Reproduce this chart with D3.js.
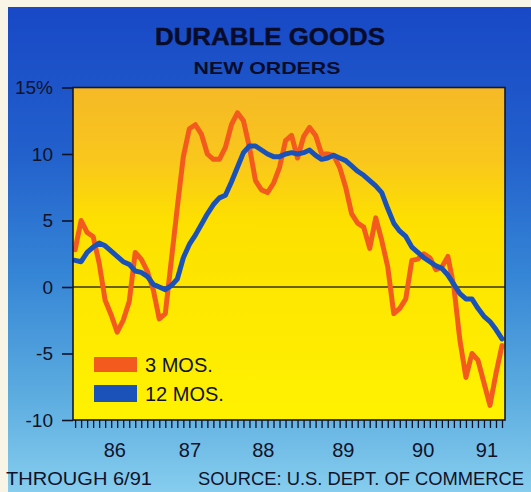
<!DOCTYPE html>
<html>
<head>
<meta charset="utf-8">
<script src="https://cdn.jsdelivr.net/npm/d3@7"></script>
<style>
  html, body { margin: 0; padding: 0; background: #f8f4e6; }
  svg { display: block; font-family: "Liberation Sans", Arial, Helvetica, sans-serif; }
</style>
</head>
<body>
<svg id="chart" width="531" height="492"></svg>
<script>
// Durable goods new orders, percent change, monthly from July 1985 through June 1991
const months = d3.timeMonth.range(new Date(1985, 6, 1), new Date(1991, 6, 1));

// 3-month change
const threeMonth = [
  2.8, 5.0, 4.1, 3.8, 1.8, -1.0, -2.1, -3.4, -2.5, -1.1,
  2.6, 2.1, 1.2, -0.2, -2.4, -2.0, 2.0, 6.0, 9.8, 11.9,
  12.2, 11.5, 10.0, 9.6, 9.6, 10.5, 12.2, 13.1, 12.5, 10.5,
  8.0, 7.3, 7.1, 7.8, 9.0, 11.0, 11.4, 9.7, 11.3, 12.0,
  11.4, 10.0, 10.0, 9.9, 9.0, 7.5, 5.5, 4.8, 4.5, 2.9,
  5.2, 3.5, 1.5, -2.0, -1.6, -0.9, 2.0, 2.1, 2.5, 2.2,
  1.3, 1.5, 2.3, 0.0, -4.0, -6.8, -5.0, -5.5, -7.2, -8.9,
  -6.5, -4.4
];

// 12-month change
const twelveMonth = [
  2.0, 1.9, 2.6, 3.0, 3.3, 3.1, 2.7, 2.3, 1.9, 1.7,
  1.2, 1.1, 0.8, 0.2, 0.0, -0.2, 0.1, 0.6, 2.2, 3.2,
  3.9, 4.7, 5.5, 6.2, 6.7, 6.9, 7.9, 9.0, 10.1, 10.6,
  10.6, 10.3, 10.0, 9.8, 9.8, 10.0, 10.1, 10.0, 10.1, 10.3,
  9.9, 9.6, 9.7, 9.9, 9.7, 9.5, 9.1, 8.7, 8.4, 8.0,
  7.6, 7.1, 5.9, 4.8, 4.2, 3.8, 3.0, 2.6, 2.2, 1.9,
  1.6, 1.4, 0.9, 0.2, -0.5, -0.9, -0.9, -1.6, -2.2, -2.6,
  -3.2, -3.9
];

const seriesNames = ["3 MOS.", "12 MOS."];
const seriesColors = ["#f35a1d", "#1a52ba"];

const yTicks = [15, 10, 5, 0, -5, -10];
const yearLabels = ["86", "87", "88", "89", "90", "91"];
// month index (from July 1985) under which each year label sits
const yearLabelAt = [6.6, 19.1, 31.3, 44.6, 57.9, 68.5];

const titleText = "DURABLE GOODS";
const subtitleText = "NEW ORDERS";
const footLeft = "THROUGH 6/91";
const footRight = "SOURCE: U.S. DEPT. OF COMMERCE";

// ---- layout ----
const W = 531, H = 492;
const plot = { left: 73, right: 505, top: 87.5, bottom: 420 };
const ink = "#10122a";
const titleInk = "#080c2a";

const svg = d3.select("#chart");
const defs = svg.append("defs");

const bg = defs.append("linearGradient").attr("id", "bgGrad")
  .attr("x1", 0).attr("y1", 0).attr("x2", 0).attr("y2", 1);
[["0%", "#1848c6"], ["30%", "#2260cc"], ["55%", "#3585d6"], ["80%", "#5cace0"], ["100%", "#86cdee"]]
  .forEach(([o, c]) => bg.append("stop").attr("offset", o).attr("stop-color", c));

const yg = defs.append("linearGradient").attr("id", "plotGrad")
  .attr("x1", 0).attr("y1", 0).attr("x2", 0).attr("y2", 1);
[["0%", "#f5b926"], ["22%", "#f9c71c"], ["40%", "#fde000"], ["100%", "#fff200"]]
  .forEach(([o, c]) => yg.append("stop").attr("offset", o).attr("stop-color", c));

defs.append("clipPath").attr("id", "plotClip").append("rect")
  .attr("x", plot.left).attr("y", plot.top)
  .attr("width", plot.right - plot.left).attr("height", plot.bottom - plot.top);

// panel background
svg.append("rect").attr("x", 0).attr("y", 0).attr("width", W).attr("height", H).attr("fill", "#f8f4e6");
svg.append("rect").attr("x", 8).attr("y", 7).attr("width", W - 8).attr("height", H - 7).attr("fill", "url(#bgGrad)");

// scales
const x = d3.scaleLinear().domain([-0.35, months.length - 0.5]).range([plot.left, plot.right]);
const y = d3.scaleLinear().domain([-10, 15]).range([plot.bottom, plot.top]);

// plot area
svg.append("rect")
  .attr("x", plot.left).attr("y", plot.top)
  .attr("width", plot.right - plot.left).attr("height", plot.bottom - plot.top)
  .attr("fill", "url(#plotGrad)");

// zero line
svg.append("line")
  .attr("x1", plot.left).attr("x2", plot.right)
  .attr("y1", y(0)).attr("y2", y(0))
  .attr("stroke", "#3a3418").attr("stroke-width", 1.4);

// series lines
const line = d3.line().x((d, i) => x(i)).y(d => y(d));
const lines = svg.append("g").attr("clip-path", "url(#plotClip)");
[threeMonth, twelveMonth].forEach((vals, k) => {
  lines.append("path")
    .datum(vals)
    .attr("d", line)
    .attr("fill", "none")
    .attr("stroke", seriesColors[k])
    .attr("stroke-width", 5)
    .attr("stroke-linejoin", "round")
    .attr("stroke-linecap", "round");
});

// plot frame
svg.append("rect")
  .attr("x", plot.left).attr("y", plot.top)
  .attr("width", plot.right - plot.left).attr("height", plot.bottom - plot.top)
  .attr("fill", "none").attr("stroke", "#141a2a").attr("stroke-width", 1.6);

// y axis
const yAxis = svg.append("g")
  .attr("transform", `translate(${plot.left},0)`)
  .call(d3.axisLeft(y).tickValues(yTicks).tickSize(11).tickPadding(9)
    .tickFormat(d => d === 15 ? "15%" : String(d)));
yAxis.select(".domain").remove();
yAxis.selectAll(".tick line").attr("stroke", ink).attr("stroke-width", 1.6);
yAxis.selectAll(".tick text")
  .attr("fill", ink).attr("font-size", 19)
  .attr("font-family", "'Liberation Sans', Arial, sans-serif");

// x axis: monthly tick marks
const xAxis = svg.append("g")
  .attr("transform", `translate(0,${plot.bottom})`)
  .call(d3.axisBottom(x).tickValues(d3.range(months.length)).tickSize(8).tickSizeOuter(0).tickFormat(""));
xAxis.select(".domain").remove();
xAxis.selectAll(".tick line").attr("stroke", ink).attr("stroke-width", 1.3);

// year labels
svg.append("g").selectAll("text")
  .data(yearLabels)
  .join("text")
  .attr("x", (d, i) => x(yearLabelAt[i]))
  .attr("y", 457)
  .attr("text-anchor", "middle")
  .attr("font-size", 20)
  .attr("fill", ink)
  .text(d => d);

// titles
svg.append("text")
  .attr("x", 270).attr("y", 45)
  .attr("text-anchor", "middle")
  .attr("font-size", 24).attr("font-weight", "bold")
  .attr("fill", titleInk)
  .attr("stroke", titleInk).attr("stroke-width", 0.4)
  .attr("textLength", 230).attr("lengthAdjust", "spacingAndGlyphs")
  .text(titleText);
svg.append("text")
  .attr("x", 267).attr("y", 74)
  .attr("text-anchor", "middle")
  .attr("font-size", 17).attr("font-weight", "bold")
  .attr("fill", titleInk)
  .attr("textLength", 147).attr("lengthAdjust", "spacingAndGlyphs")
  .text(subtitleText);

// legend
const legend = svg.append("g");
seriesNames.forEach((name, k) => {
  const top = k === 0 ? 357 : 385;
  const h = k === 0 ? 15 : 17;
  legend.append("rect")
    .attr("x", 94).attr("y", top).attr("width", 43).attr("height", h)
    .attr("fill", seriesColors[k]);
  legend.append("text")
    .attr("x", 145).attr("y", top + h / 2 + 7.5)
    .attr("font-size", 20).attr("fill", ink)
    .text(name);
});

// footer
svg.append("text")
  .attr("x", 6).attr("y", 485)
  .attr("font-size", 18).attr("fill", ink)
  .attr("textLength", 146).attr("lengthAdjust", "spacingAndGlyphs")
  .text(footLeft);
svg.append("text")
  .attr("x", 198).attr("y", 485)
  .attr("font-size", 18).attr("fill", ink)
  .attr("textLength", 326).attr("lengthAdjust", "spacingAndGlyphs")
  .text(footRight);
</script>
</body>
</html>
